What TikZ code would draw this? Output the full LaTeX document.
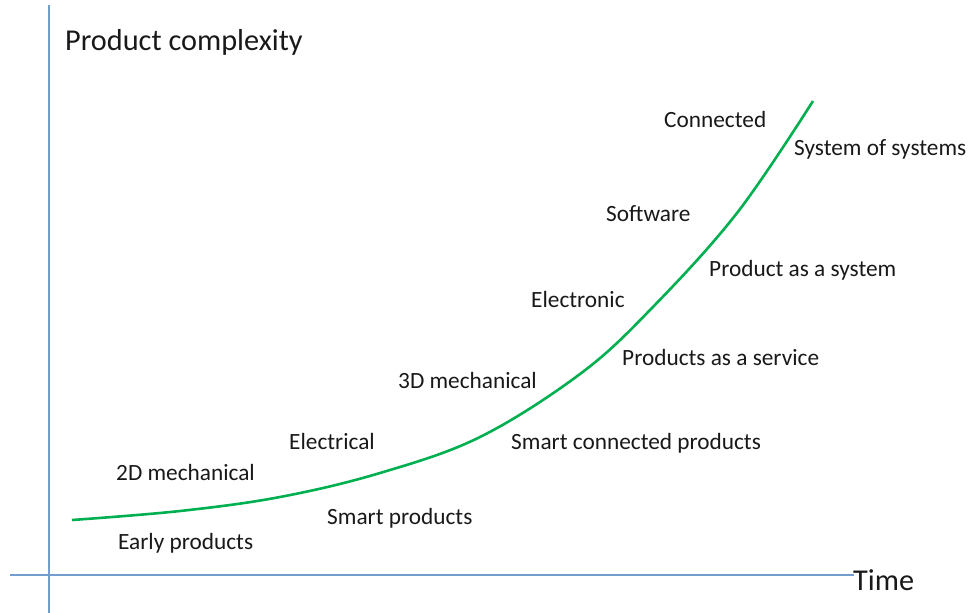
\documentclass[tikz,border=0pt]{standalone}
\usepackage{fontspec}
\setmainfont{Carlito}
\definecolor{axisblue}{RGB}{114,157,207}
\definecolor{curvegreen}{RGB}{0,176,80}
\begin{document}
\begin{tikzpicture}[x=1pt,y=-1pt,
  lbl/.style={anchor=base west,inner sep=0pt,font=\fontsize{23.3}{27}\selectfont,text=black!90},
  big/.style={anchor=base west,inner sep=0pt,font=\fontsize{30.3}{34}\selectfont,text=black!90},
  axis/.style={draw=axisblue,line width=2pt},
  growth/.style={draw=curvegreen,line width=2.6pt}]
\useasboundingbox (0,0) rectangle (970,613);
\coordinate (ytop) at (49,5);
\coordinate (ybot) at (49,613);
\coordinate (xleft) at (10,574.5);
\coordinate (xright) at (854,574.5);
\draw[axis] (ytop) -- (ybot);
\draw[axis] (xleft) -- (xright);
\draw[growth] plot[smooth,tension=0.6] coordinates {(72,520) (180,511) (280,497) (380,473) (480,437) (580,374) (650,310) (737,213) (813,101)};
\node[big] (yl) at (65,50) {Product complexity};
\node[big] (xl) at (853,590) {Time};
\node[lbl] (a) at (664,127) {Connected};
\node[lbl] (b) at (794,155) {System of systems};
\node[lbl] (c) at (606,221) {Software};
\node[lbl] (d) at (709,276) {Product as a system};
\node[lbl] (e) at (531,307) {Electronic};
\node[lbl] (f) at (622,365) {Products as a service};
\node[lbl] (g) at (398,388) {3D mechanical};
\node[lbl] (h) at (511,449) {Smart connected products};
\node[lbl] (i) at (289,449) {Electrical};
\node[lbl] (j) at (116,480) {2D mechanical};
\node[lbl] (k) at (327,524) {Smart products};
\node[lbl] (l) at (118,549) {Early products};
\end{tikzpicture}
\end{document}
